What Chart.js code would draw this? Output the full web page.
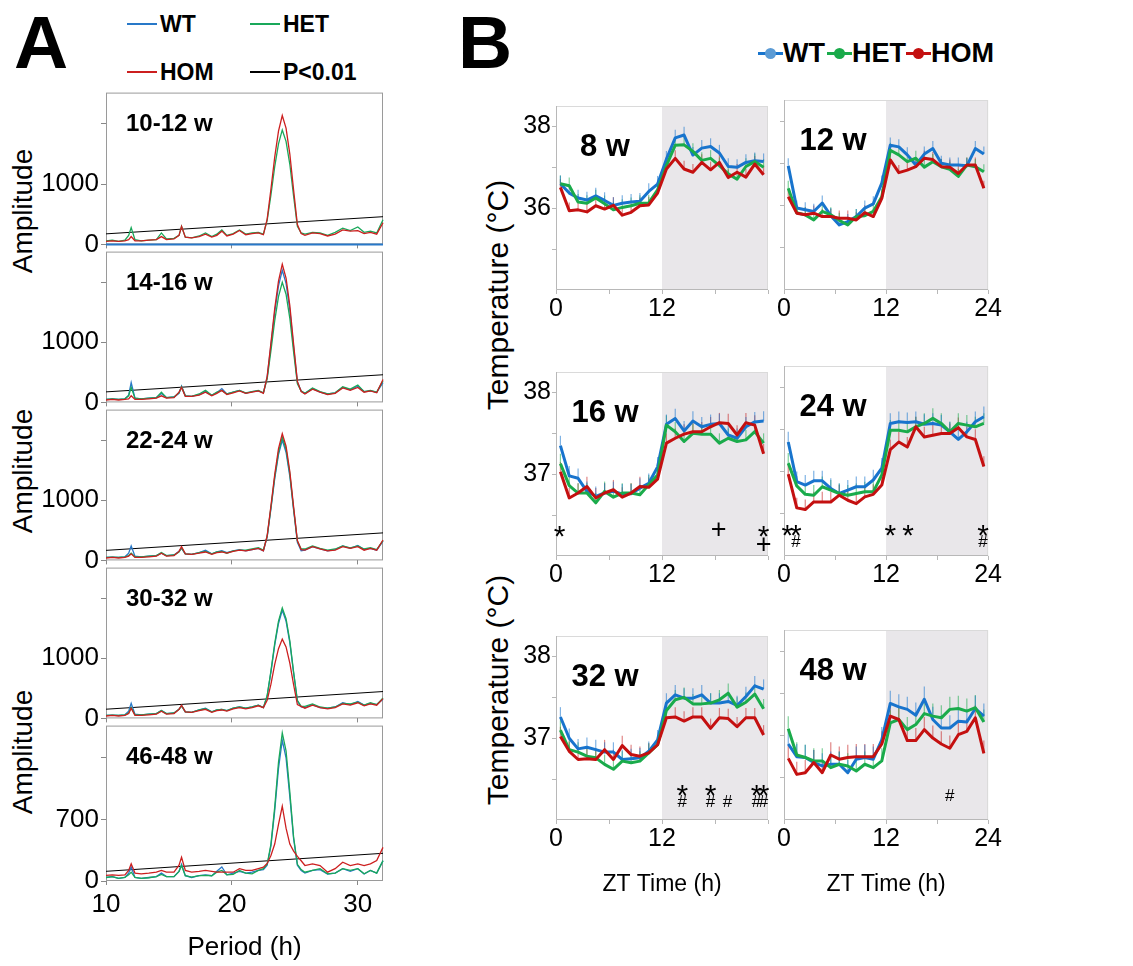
<!DOCTYPE html>
<html>
<head>
<meta charset="utf-8">
<script src="https://cdn.jsdelivr.net/npm/chart.js@4.4.0/dist/chart.umd.min.js"></script>
<style>
  body { margin: 0; background: #fff; }
  #fig { position: relative; width: 1133px; height: 966px; overflow: hidden;
         font-family: "Liberation Sans", Arial, sans-serif; color: #000; }
  #fig canvas { position: absolute; }
  .t { position: absolute; white-space: nowrap; line-height: 1; }
  .vt { position: absolute; white-space: nowrap; line-height: 1;
        transform: translate(-50%, -50%) rotate(-90deg); }
  .lg { position: absolute; display: flex; align-items: center; font-weight: bold; white-space: nowrap; }
  .lg i { display: inline-block; height: 2px; width: 30px; margin-right: 3px; }
  .lg .ln { position: relative; display: inline-block; width: 25px; height: 3px; }
  .lg .ln b { position: absolute; left: 7px; top: -4px; width: 11px; height: 11px; border-radius: 50%; }
</style>
</head>
<body>
<div id="fig">
  <div class="t" style="left:14px;top:5px;font-size:75px;font-weight:bold">A</div>
  <div class="t" style="left:458px;top:5px;font-size:75px;font-weight:bold">B</div>

  <div class="lg" style="left:127px;top:12px;height:24px;font-size:23px"><i style="background:#2878c8"></i>WT</div>
  <div class="lg" style="left:250px;top:12px;height:24px;font-size:23px"><i style="background:#19a85a"></i>HET</div>
  <div class="lg" style="left:127px;top:60px;height:24px;font-size:23px"><i style="background:#cc1f1f"></i>HOM</div>
  <div class="lg" style="left:250px;top:60px;height:24px;font-size:23px"><i style="background:#000"></i>P&lt;0.01</div>

  <div class="lg" style="left:758px;top:39px;height:28px;font-size:27px"><span class="ln" style="background:#1874cd"><b style="background:#5b9bd5"></b></span>WT</div>
  <div class="lg" style="left:827px;top:39px;height:28px;font-size:27px"><span class="ln" style="background:#1aab4b"><b style="background:#1aab4b"></b></span>HET</div>
  <div class="lg" style="left:906px;top:39px;height:28px;font-size:27px"><span class="ln" style="background:#c41010"><b style="background:#c41010"></b></span>HOM</div>

  <div class="vt" style="left:23px;top:211px;font-size:28px">Amplitude</div>
  <div class="vt" style="left:23px;top:471px;font-size:28px">Amplitude</div>
  <div class="vt" style="left:23px;top:752px;font-size:28px">Amplitude</div>
  <div class="vt" style="left:498px;top:295px;font-size:30px">Temperature (°C)</div>
  <div class="vt" style="left:498px;top:690px;font-size:30px">Temperature (°C)</div>
</div>
<script>
// ---- A: periodograms ----
const period = [10, 10.5, 11, 11.5, 11.8, 12, 12.3, 12.8, 13.4, 14, 14.4, 14.8, 15.4, 15.8, 16, 16.3, 16.8, 17.4, 17.9, 18.4,
  18.8, 19.2, 19.6, 20.1, 20.6, 21.1, 21.6, 22.1,
  22.5, 22.8, 23.1, 23.4, 23.7, 24, 24.3, 24.6, 24.9, 25.2, 25.5,
  25.8, 26.4, 27, 27.6, 28.2, 28.8, 29.4, 30, 30.5, 31, 31.5, 32];

const aTags = ['10-12 w', '14-16 w', '22-24 w', '30-32 w', '46-48 w'];

const aWT1 = [0,0,0,0,0,0,0,0,0,0, 0,0,0,0,0,0,0,0,0,0, 0,0,0,0,0,0,0,0, 0,0,0,0,0,0,0,0,0,0,0, 0,0,0,0,0,0,0,0,0,0,0,0];
const aHET1 = [60,70,50,70,150,280,80,60,70,80, 190,90,100,150,300,120,110,140,190,130, 170,240,150,180,240,170,190,200,
  170,400,820,1290,1670,1900,1710,1330,800,300,190, 170,200,190,150,200,270,230,290,200,220,190,410];
const aHOM1 = [50,60,50,60,80,130,60,60,70,80, 130,80,90,150,300,120,110,130,170,120, 150,220,140,170,230,160,180,190,
  160,420,920,1450,1880,2140,1930,1500,900,330,180, 150,190,180,140,170,240,220,230,180,200,170,360];

const aWT2 = [50,60,50,60,120,330,70,60,70,80, 150,80,90,150,270,110,100,130,180,120, 160,230,140,170,200,150,180,190,
  160,420,950,1500,1940,2200,1980,1540,920,340,190, 150,230,170,140,160,250,210,270,180,190,170,330];
const aHET2 = [50,60,50,60,110,250,70,60,70,80, 170,80,90,160,260,110,100,140,200,120, 170,200,140,170,200,160,180,200,
  160,390,860,1360,1760,2000,1800,1400,840,310,190, 150,240,180,140,160,260,220,290,180,200,170,360];
const aHOM2 = [40,50,40,50,60,110,50,50,60,70, 110,70,80,170,250,100,100,120,170,110, 150,200,130,160,190,150,170,190,
  150,430,990,1560,2020,2300,2070,1610,970,350,180, 140,220,170,130,150,240,200,250,170,190,160,380];

const aWT3 = [50,55,50,60,120,240,70,60,70,80, 120,80,90,150,200,110,100,130,170,110, 140,160,130,160,180,160,180,200,
  160,390,860,1360,1760,2000,1800,1400,840,300,160, 170,230,190,160,180,240,200,250,180,200,170,320];
const aHET3 = [50,55,50,60,80,120,60,60,70,80, 130,80,90,140,210,110,100,130,150,110, 140,150,120,160,170,170,190,210,
  170,400,880,1390,1800,2050,1850,1440,860,320,190, 190,240,200,170,190,240,210,240,190,210,180,330];
const aHOM3 = [40,50,40,50,70,110,50,50,60,70, 120,70,80,150,230,110,100,120,140,100, 130,140,120,150,170,160,180,200,
  160,410,910,1430,1860,2110,1900,1480,890,330,180, 170,230,190,160,170,230,200,230,170,200,170,340];

const aWT4 = [50,55,50,60,120,250,70,60,70,80, 130,80,90,150,210,110,100,140,170,110, 140,150,130,170,190,170,190,220,
  180,370,770,1220,1580,1800,1620,1260,760,290,190, 180,230,180,170,190,260,230,280,220,250,230,320];
const aHET4 = [50,55,50,60,90,180,60,60,70,80, 130,80,90,150,210,110,100,140,160,110, 140,150,130,170,190,170,190,220,
  180,380,790,1250,1620,1840,1660,1290,770,300,200, 200,240,190,170,190,250,240,270,220,260,230,340];
const aHOM4 = [40,50,40,50,80,170,50,50,60,70, 120,70,80,150,220,110,100,130,150,100, 130,140,120,160,180,160,180,210,
  180,300,570,900,1160,1320,1190,920,560,230,200, 170,220,180,160,180,240,220,260,210,240,220,330];

const aWT5 = [40,50,30,40,90,160,40,30,40,50, 90,50,50,110,190,60,40,60,70,60, 110,160,70,90,110,90,100,120,
  130,180,400,800,1280,1600,1400,960,480,180,120, 90,120,130,80,90,140,110,140,80,120,90,230];
const aHET5 = [40,50,30,40,70,100,40,30,37,50, 75,50,50,110,176,60,45,60,64,60, 100,120,70,75,120,90,82,120,
  140,190,420,840,1350,1685,1480,1010,500,190,130, 100,120,140,82,90,140,120,140,82,120,90,232];
const aHOM5 = [64,70,64,70,120,195,90,82,90,100, 120,100,100,180,270,120,100,110,120,110, 100,100,100,100,140,120,120,140,
  157,200,290,420,645,850,600,420,340,280,230, 176,195,176,100,140,213,176,195,176,195,232,382];

// P<0.01 significance line, value at 10 h and at 32 h
const sigPeriod = [10, 32];
const sigLevel = [[175, 460], [175, 460], [167, 458], [153, 447], [110, 315]];
const aMax = [2520, 2510, 2510, 2510, 1767];
const aYTicks = [[0, 1000, 2000], [0, 1000, 2000], [0, 1000, 2000], [0, 1000, 2000], [0, 700, 1400]];
const aXTicks = [10, 20, 30];

// ---- B: body temperature profiles ----
const zt = [0.5, 1.5, 2.5, 3.5, 4.5, 5.5, 6.5, 7.5, 8.5, 9.5, 10.5, 11.5, 12.5, 13.5, 14.5, 15.5, 16.5, 17.5, 18.5, 19.5, 20.5, 21.5, 22.5, 23.5];
const bTags = ['8 w', '12 w', '16 w', '24 w', '32 w', '48 w'];
const bXTicks = [0, 6, 12, 18, 24];
const bYTicksTop = [35, 36, 37, 38];
const bYTicks = [36.5, 37, 37.5, 38];

const wt8 = [36.6,36.37,36.25,36.2,36.3,36.19,36.07,36.12,36.15,36.17,36.41,36.59,37.2,37.72,37.79,37.3,37.47,37.51,37.35,37.02,37.0,37.12,37.16,37.14];
const het8 = [36.6,36.55,36.15,36.12,36.25,36.11,35.96,36.02,36.06,36.12,36.13,36.45,37.04,37.54,37.55,37.39,37.17,37.22,37.04,36.84,36.71,37.02,37.14,37.0];
const hom8 = [36.51,35.94,35.96,35.91,36.06,35.98,36.07,35.83,35.9,36.06,36.08,36.37,36.96,37.22,36.96,36.88,37.12,36.94,37.12,36.75,36.88,36.76,37.08,36.82];

const wt12 = [36.94,35.94,35.9,35.86,36.06,35.76,35.54,35.62,35.74,35.94,36.04,36.53,37.43,37.39,37.2,36.96,37.22,37.35,37.0,36.96,36.96,36.94,37.35,37.22];
const het12 = [36.41,35.83,35.78,35.66,35.86,35.78,35.65,35.54,35.74,35.76,35.86,36.21,37.31,37.2,37.04,37.12,36.91,37.04,36.92,36.86,36.69,36.96,36.92,36.8];
const hom12 = [36.21,35.82,35.78,35.82,35.74,35.74,35.7,35.7,35.66,35.83,35.74,36.17,37.08,36.78,36.84,36.92,37.12,37.09,36.92,36.91,36.76,36.96,36.96,36.41];

const wt16 = [37.35,36.98,36.95,36.79,36.73,36.77,36.79,36.76,36.76,36.83,36.89,37.09,37.61,37.68,37.53,37.65,37.58,37.61,37.62,37.48,37.44,37.58,37.64,37.65];
const het16 = [37.13,36.86,36.77,36.77,36.65,36.79,36.72,36.77,36.77,36.75,36.87,36.99,37.6,37.52,37.4,37.5,37.49,37.49,37.38,37.44,37.4,37.42,37.52,37.38];
const hom16 = [37.03,36.71,36.77,36.85,36.71,36.77,36.81,36.72,36.77,36.85,36.84,36.94,37.38,37.44,37.49,37.52,37.52,37.58,37.63,37.62,37.48,37.63,37.6,37.25];

const wt24 = [37.35,36.88,36.84,36.89,36.89,36.8,36.74,36.78,36.82,36.82,36.9,37.04,37.57,37.59,37.58,37.59,37.56,37.57,37.55,37.47,37.38,37.47,37.59,37.65];
const het24 = [37.1,36.83,36.73,36.72,36.82,36.78,36.74,36.72,36.74,36.76,36.76,36.96,37.49,37.49,37.47,37.53,37.57,37.63,37.57,37.47,37.57,37.55,37.53,37.57];
const hom24 = [36.97,36.57,36.55,36.64,36.64,36.64,36.72,36.66,36.62,36.7,36.73,36.84,37.26,37.35,37.29,37.53,37.41,37.43,37.45,37.45,37.52,37.41,37.38,37.06];

const wt32 = [37.26,37.0,36.87,36.89,36.86,36.83,36.83,36.74,36.75,36.76,36.84,36.98,37.43,37.53,37.49,37.49,37.53,37.43,37.43,37.45,37.4,37.51,37.64,37.6];
const het32 = [37.1,36.86,36.83,36.78,36.76,36.68,36.62,36.72,36.7,36.72,36.82,36.92,37.34,37.47,37.5,37.42,37.42,37.43,37.47,37.55,37.38,37.44,37.54,37.36];
const hom32 = [37.02,36.84,36.74,36.75,36.74,36.86,36.74,36.91,36.8,36.78,36.82,36.92,37.25,37.26,37.21,37.26,37.26,37.12,37.25,37.24,37.14,37.25,37.25,37.04];

const wt48 = [36.9,36.75,36.74,36.68,36.64,36.66,36.66,36.56,36.72,36.74,36.72,36.95,37.38,37.34,37.31,37.24,37.43,37.19,37.09,37.09,37.17,37.16,37.32,37.23];
const het48 = [37.08,36.77,36.74,36.7,36.7,36.62,36.66,36.64,36.58,36.66,36.62,36.7,37.15,37.19,37.07,37.13,37.26,37.23,37.21,37.31,37.32,37.29,37.33,37.16];
const hom48 = [36.73,36.54,36.56,36.68,36.56,36.77,36.72,36.74,36.75,36.75,36.75,36.9,37.23,37.19,36.94,36.94,37.07,36.97,36.9,36.85,37.01,37.05,37.21,36.79];

// approximate SEM used for the upward whiskers
const bSem = [0.2, 0.18, 0.12, 0.12, 0.12, 0.15];

// significance marks: [ZT, temperature level, symbol]
const marks16 = [[0.4, 36.31, '*'], [18.4, 36.31, '+'], [23.5, 36.31, '*'], [23.5, 36.13, '+']];
const marks24 = [[0.4, 36.31, '*'], [1.4, 36.31, '*'], [1.4, 36.16, '#'], [12.5, 36.31, '*'], [14.6, 36.31, '*'], [23.4, 36.31, '*'], [23.4, 36.16, '#']];
const marks32 = [[14.3, 36.36, '*'], [14.3, 36.22, '#'], [17.5, 36.36, '*'], [17.5, 36.22, '#'], [19.4, 36.22, '#'],
  [22.7, 36.36, '*'], [23.5, 36.36, '*'], [22.7, 36.22, '#'], [23.5, 36.22, '#']];
const marks48 = [[19.5, 36.28, '#']];

const bSeries = [
  [wt8, het8, hom8], [wt12, het12, hom12], [wt16, het16, hom16],
  [wt24, het24, hom24], [wt32, het32, hom32], [wt48, het48, hom48]
];
const bMarks = [[], [], marks16, marks24, marks32, marks48];

const family = "'Liberation Sans', Arial, sans-serif";
Chart.defaults.font.family = family;
Chart.defaults.color = '#000';

const fig = document.getElementById('fig');
function addCanvas(left, top, w, h) {
  const c = document.createElement('canvas');
  c.width = w; c.height = h;
  c.style.left = left + 'px'; c.style.top = top + 'px';
  c.style.width = w + 'px'; c.style.height = h + 'px';
  fig.appendChild(c);
  return c;
}
const pts = (xs, ys) => xs.map((x, i) => ({ x: x, y: ys[i] }));
const fixTicks = vals => s => { s.ticks = vals.map(v => ({ value: v })); };

// frame, dark-phase shading and SEM whiskers
const boxPlugin = {
  id: 'box',
  beforeDatasetsDraw(chart, args, o) {
    const { ctx, chartArea: a, scales: { x, y } } = chart;
    ctx.save();
    if (o.shade) {
      const x0 = x.getPixelForValue(o.shadeFrom);
      ctx.fillStyle = o.shade;
      ctx.fillRect(x0, a.top, a.right - x0, a.bottom - a.top);
    }
    ctx.lineWidth = 1;
    ctx.strokeStyle = o.edge;
    ctx.strokeRect(a.left + 0.5, a.top + 0.5, a.width - 1, a.height - 1);
    if (o.axis) {
      ctx.strokeStyle = o.axis;
      ctx.beginPath();
      ctx.moveTo(a.left + 0.5, a.top);
      ctx.lineTo(a.left + 0.5, a.bottom - 0.5);
      ctx.lineTo(a.right, a.bottom - 0.5);
      ctx.stroke();
    }
    chart.data.datasets.forEach((ds, i) => {
      if (!ds.sem) return;
      ctx.strokeStyle = ds.whisker;
      ctx.lineWidth = 1.2;
      chart.getDatasetMeta(i).data.forEach((p, j) => {
        ctx.beginPath();
        ctx.moveTo(p.x, p.y);
        ctx.lineTo(p.x, y.getPixelForValue(ds.data[j].y + ds.sem));
        ctx.stroke();
      });
    });
    ctx.restore();
  }
};

// in-plot age label and significance symbols
const markSize = { '*': 30, '+': 27, '#': 17 };
const notePlugin = {
  id: 'note',
  afterDatasetsDraw(chart, args, o) {
    const { ctx, chartArea: a, scales: { x, y } } = chart;
    ctx.save();
    ctx.fillStyle = '#000';
    ctx.textAlign = o.align;
    ctx.textBaseline = 'alphabetic';
    ctx.font = 'bold ' + o.size + 'px ' + family;
    ctx.fillText(o.text, a.left + o.dx, a.top + o.dy);
    ctx.textAlign = 'center';
    ctx.textBaseline = 'middle';
    (o.marks || []).forEach(([t, v, s]) => {
      const size = markSize[s];
      ctx.font = size + 'px ' + family;
      const lift = s === '*' ? size * 0.22 : 0;
      ctx.fillText(s, x.getPixelForValue(t), y.getPixelForValue(v) + lift);
    });
    ctx.restore();
  }
};

// ---- panel A charts ----
const aWT = [aWT1, aWT2, aWT3, aWT4, aWT5];
const aHET = [aHET1, aHET2, aHET3, aHET4, aHET5];
const aHOM = [aHOM1, aHOM2, aHOM3, aHOM4, aHOM5];
const aTops = [89, 248, 406, 564, 722, 881];

aTags.forEach((tag, i) => {
  const top = aTops[i], h = aTops[i + 1] - top;
  const last = i === 4;
  const ext = last ? 85 : 14;
  const c = addCanvas(0, top - 14, 390, 14 + h + ext);
  const yt = aYTicks[i];
  new Chart(c, {
    type: 'line',
    data: {
      datasets: [
        { data: pts(period, aHOM[i]), borderColor: '#cc1f1f' },
        { data: pts(period, aHET[i]), borderColor: '#19a85a' },
        { data: pts(period, aWT[i]), borderColor: '#2878c8', borderWidth: i === 0 ? 2 : 1.3 },
        { data: pts(sigPeriod, sigLevel[i]), borderColor: '#000', borderWidth: 1 }
      ]
    },
    options: {
      responsive: false, animation: false, devicePixelRatio: 1,
      layout: { autoPadding: false, padding: { top: 14, right: 7, left: 0, bottom: 0 } },
      elements: { point: { radius: 0 }, line: { borderWidth: 1.3, tension: 0 } },
      datasets: { line: { clip: 3 } },
      plugins: {
        legend: { display: false }, tooltip: { enabled: false },
        box: { edge: '#9a9a9a' },
        note: { text: tag, size: 24, align: 'left', dx: 20, dy: 38 }
      },
      scales: {
        x: {
          type: 'linear', min: 10, max: 32,
          border: { display: false },
          grid: { drawOnChartArea: false, tickLength: 4, color: '#888' },
          ticks: { display: last, autoSkip: false, maxRotation: 0, font: { size: 26 }, color: '#000', padding: 4 },
          afterBuildTicks: fixTicks(aXTicks),
          title: { display: last, text: 'Period (h)', font: { size: 26 }, color: '#000', padding: { top: 0, bottom: 3 } },
          afterFit: s => { s.height = ext; }
        },
        y: {
          min: 0, max: aMax[i],
          border: { display: false },
          grid: { drawOnChartArea: false, tickLength: 5, color: '#888' },
          ticks: { autoSkip: false, font: { size: 26 }, color: '#000', padding: 2,
                   callback: v => (v === yt[0] || v === yt[1]) ? v : '' },
          afterBuildTicks: fixTicks(yt),
          afterFit: s => { s.width = 106; }
        }
      }
    },
    plugins: [boxPlugin, notePlugin]
  });
});

// ---- panel B charts ----
const bColors = [
  { line: '#1874cd', whisker: 'rgba(24,116,205,0.55)' },
  { line: '#1aab4b', whisker: 'rgba(26,171,75,0.55)' },
  { line: '#c41010', whisker: 'rgba(196,16,16,0.5)' }
];

bTags.forEach((tag, k) => {
  const col = k % 2, row = Math.floor(k / 2);
  const plotL = col ? 784 : 556, plotT = [100, 366, 630][row];
  const yW = col ? 14 : 56, xH = row === 2 ? 80 : 34;
  const c = addCanvas(plotL - yW, plotT - 10, yW + 212 + 6, 10 + 190 + xH);
  const [wt, het, hom] = bSeries[k];
  const first = row === 0;
  const mk = (ys, j) => ({
    data: pts(zt, ys), borderColor: bColors[j].line, whisker: bColors[j].whisker, sem: bSem[k]
  });
  new Chart(c, {
    type: 'line',
    data: { datasets: [mk(hom, 2), mk(het, 1), mk(wt, 0)] },
    options: {
      responsive: false, animation: false, devicePixelRatio: 1,
      layout: { autoPadding: false, padding: { top: 10, right: 6, left: 0, bottom: 0 } },
      elements: { point: { radius: 0 }, line: { borderWidth: 3, tension: 0, borderJoinStyle: 'round' } },
      plugins: {
        legend: { display: false }, tooltip: { enabled: false },
        box: { edge: '#dadada', axis: '#b8b8b8', shade: '#e9e7ea', shadeFrom: 12 },
        note: { text: tag, size: 31, align: 'center', dx: 49, dy: 50, marks: bMarks[k] }
      },
      scales: {
        x: {
          type: 'linear', min: 0, max: 24,
          border: { display: false },
          grid: { drawOnChartArea: false, tickLength: 4, color: '#b8b8b8' },
          ticks: { autoSkip: false, maxRotation: 0, font: { size: 25 }, color: '#000', padding: 0,
                   callback: v => (v === 0 || v === 12 || (col && v === 24)) ? v : '' },
          afterBuildTicks: fixTicks(bXTicks),
          title: { display: row === 2, text: 'ZT Time (h)', font: { size: 23 }, color: '#000', padding: { top: 0, bottom: 2 } },
          afterFit: s => { s.height = xH; }
        },
        y: {
          min: first ? 34 : 36, max: first ? 38.5 : 38.25,
          border: { display: false },
          grid: { drawOnChartArea: false, tickLength: 4, color: '#b8b8b8' },
          ticks: { display: !col, autoSkip: false, font: { size: 25 }, color: '#000', padding: 1,
                   callback: v => (first ? (v === 36 || v === 38) : (v === 37 || v === 38)) ? v : '' },
          afterBuildTicks: fixTicks(first ? bYTicksTop : bYTicks),
          afterFit: s => { s.width = yW; }
        }
      }
    },
    plugins: [boxPlugin, notePlugin]
  });
});
</script>
</body>
</html>
